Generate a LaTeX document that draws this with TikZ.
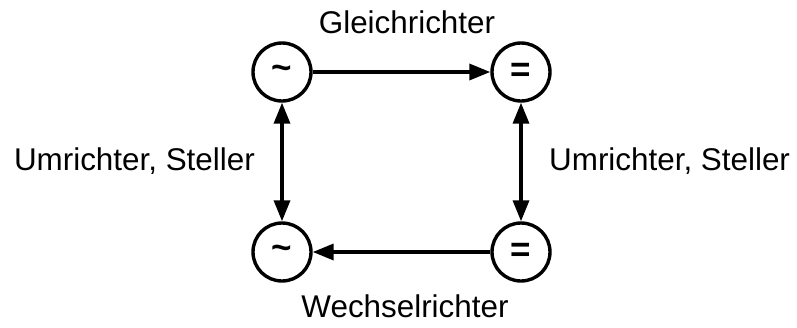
\documentclass[tikz,border=0pt]{standalone}
\usepackage{fontspec}
\setmainfont{Liberation Sans}
\usetikzlibrary{arrows.meta}

\tikzset{
  conv/.style={draw, circle, line width=3.4pt, minimum size=58pt, inner sep=0pt,
    font=\fontsize{35}{36}\selectfont\bfseries},
  flow/.style={line width=3.4pt, -{Triangle[length=21pt,width=16pt]}},
  biflow/.style={line width=3.4pt, {Triangle[length=21pt,width=16pt]}-{Triangle[length=21pt,width=16pt]}},
  lbl/.style={font=\fontsize{31.4}{36}\selectfont, inner sep=0pt}
}

\begin{document}
\begin{tikzpicture}[x=1pt,y=-1pt]
    \useasboundingbox (0,0) rectangle (797,327);

    \node[conv] (ACa) at (282,72) {\textasciitilde};
    \node[conv] (DCa) at (521,72) {=};
    \node[conv] (ACb) at (282,252) {\textasciitilde};
    \node[conv] (DCb) at (521,252) {=};

    \draw[flow] (ACa) -- (DCa);
    \draw[flow] (DCb) -- (ACb);
    \draw[biflow] (ACa) -- (ACb);
    \draw[biflow] (DCa) -- (DCb);

    \node[lbl, anchor=base] (gr) at (407,33) {Gleichrichter};
    \node[lbl, anchor=base] (wr) at (405,317) {Wechselrichter};
    \node[lbl, anchor=base east] (usl) at (255,170) {Umrichter, Steller};
    \node[lbl, anchor=base west] (usr) at (549,170) {Umrichter, Steller};
\end{tikzpicture}
\end{document}
